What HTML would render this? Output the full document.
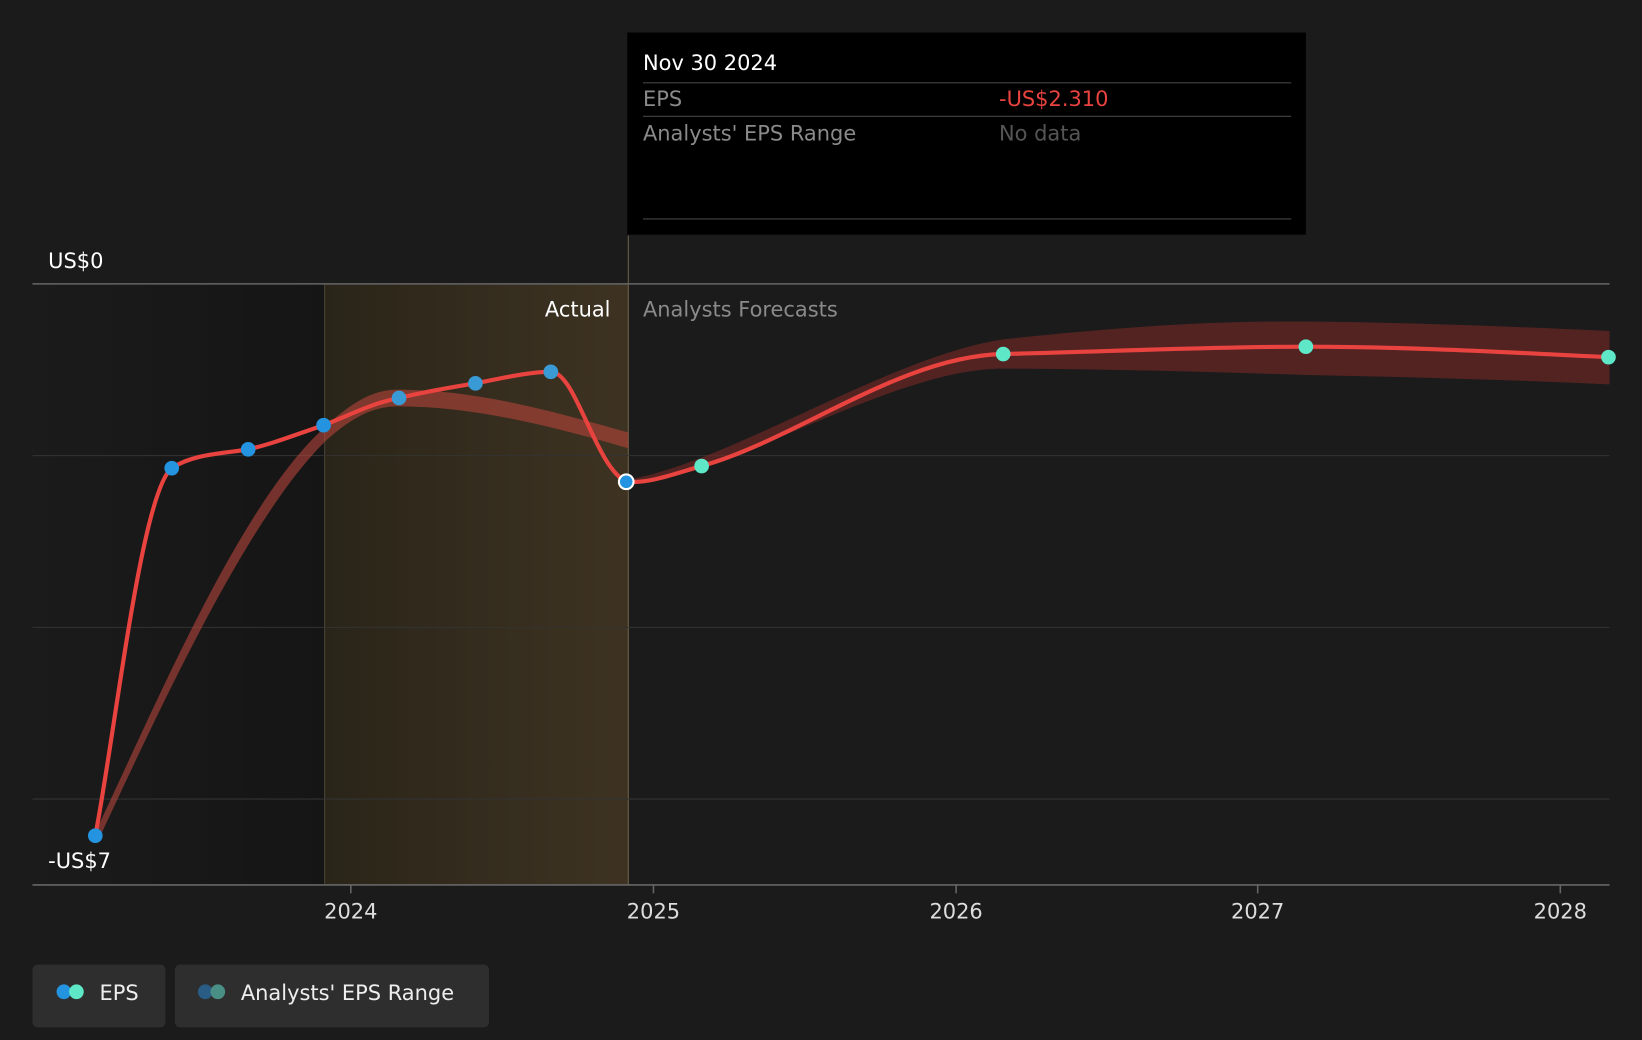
<!DOCTYPE html>
<html><head><meta charset="utf-8"><style>
html,body{margin:0;padding:0;background:#1b1b1b;}
svg{display:block;font-family:"DejaVu Sans","Liberation Sans",sans-serif;}
</style></head><body>
<svg width="1642" height="1040" viewBox="0 0 1568 993" xmlns="http://www.w3.org/2000/svg">
<defs>
<linearGradient id="act" x1="0" x2="1" y1="0" y2="0">
<stop offset="0" stop-color="#2a2519"/><stop offset="1" stop-color="#3e3322"/>
</linearGradient>
<linearGradient id="past" x1="0" x2="1" y1="0" y2="0">
<stop offset="0" stop-color="#1b1b1b"/><stop offset="1" stop-color="#151515"/>
</linearGradient>
</defs>
<rect width="1568" height="993" fill="#1b1b1b"/>
<rect x="31" y="271" width="279" height="574" fill="url(#past)"/>
<rect x="310" y="271" width="290" height="574" fill="url(#act)"/>
<line x1="310" y1="271" x2="310" y2="845" stroke="#4a4434" stroke-width="1"/>
<line x1="600" y1="225" x2="600" y2="845" stroke="#6b6248" stroke-width="1"/>
<g stroke="#333" stroke-width="1">
<line x1="31" y1="435" x2="1537" y2="435"/>
<line x1="31" y1="599" x2="1537" y2="599"/>
<line x1="31" y1="763" x2="1537" y2="763"/>
</g>
<line x1="31" y1="271" x2="1537" y2="271" stroke="#666" stroke-width="1.5"/>
<line x1="31" y1="845" x2="1537" y2="845" stroke="#666" stroke-width="1.5"/>
<g stroke="#666" stroke-width="1.5">
<line x1="335" y1="845" x2="335" y2="853"/><line x1="624" y1="845" x2="624" y2="853"/>
<line x1="913" y1="845" x2="913" y2="853"/><line x1="1201" y1="845" x2="1201" y2="853"/>
<line x1="1490" y1="845" x2="1490" y2="853"/>
</g>
<g fill="#ddd" font-size="20" text-anchor="middle">
<text x="335" y="877">2024</text><text x="624" y="877">2025</text><text x="913" y="877">2026</text><text x="1201" y="877">2027</text><text x="1490" y="877">2028</text>
</g>
<text x="46" y="256" fill="#fff" font-size="20">US$0</text>
<text x="46" y="829" fill="#fff" font-size="20">-US$7</text>
<text x="583" y="302" fill="#fff" font-size="20" text-anchor="end">Actual</text>
<text x="614" y="302" fill="#8a8a8a" font-size="20">Analysts Forecasts</text>
<!-- past range band -->
<path d="M91,795 C150,670 230,480 310,408 C340,380 360,372 380,372 C450,372 520,390 600,413 L600,428 C520,405 450,388 380,388 C360,388 340,395 312,420 C240,490 160,660 95,800 Z" fill="#b5443a" opacity="0.6"/>
<!-- forecast band -->
<path d="M600,458 C700,440 850,340 958,324 C1050,314 1150,306 1247,307 C1350,308 1450,312 1537,316 L1537,367 C1450,363 1350,360 1247,358 C1150,355 1050,352 958,352 C850,352 700,455 600,462 Z" fill="#7a2a28" opacity="0.6"/>
<!-- EPS line -->
<path d="M91,798 C110,700 135,470 164,447 C185,433 215,433 237,429 C260,424 285,414 309,406 C335,396 355,385 381,380 C410,373 430,370 454,366 C480,361 505,355 526,355 C550,355 568,445 598,460 C620,462 645,452 670,445 C760,420 860,340 958,338 C1050,336 1150,331 1247,331 C1350,331 1450,337 1536,341" fill="none" stroke="#e8433f" stroke-width="4"/>
<g fill="#2494e0">
<circle cx="91" cy="798" r="7"/><circle cx="164" cy="447" r="7"/><circle cx="237" cy="429" r="7"/><circle cx="309" cy="406" r="7"/>
<circle cx="381" cy="380" r="7" fill="#3a9ad6"/><circle cx="454" cy="366" r="7" fill="#3a9ad6"/><circle cx="526" cy="355" r="7" fill="#3a9ad6"/>
</g>
<circle cx="598" cy="460" r="7" fill="#2494e0" stroke="#fff" stroke-width="2"/>
<g fill="#5ee8c8">
<circle cx="670" cy="445" r="7"/><circle cx="958" cy="338" r="7"/><circle cx="1247" cy="331" r="7"/><circle cx="1536" cy="341" r="7"/>
</g>
<!-- tooltip -->
<rect x="599" y="31" width="648" height="193" fill="#000"/>
<text x="614" y="67" fill="#fff" font-size="20">Nov 30 2024</text>
<line x1="614" y1="79" x2="1233" y2="79" stroke="#444"/>
<text x="614" y="101" fill="#8a8a8a" font-size="20">EPS</text>
<text x="954" y="101" fill="#e8433f" font-size="20">-US$2.310</text>
<line x1="614" y1="111" x2="1233" y2="111" stroke="#444"/>
<text x="614" y="134" fill="#8a8a8a" font-size="20">Analysts' EPS Range</text>
<text x="954" y="134" fill="#555" font-size="20">No data</text>
<line x1="614" y1="209" x2="1233" y2="209" stroke="#444"/>
<!-- legend -->
<rect x="31" y="921" width="127" height="60" rx="5" fill="#2e2e2e"/>
<circle cx="61" cy="947" r="7" fill="#2494e0"/><circle cx="73" cy="947" r="7" fill="#5ee8c8"/>
<text x="95" y="955" fill="#eee" font-size="20">EPS</text>
<rect x="167" y="921" width="300" height="60" rx="5" fill="#2e2e2e"/>
<circle cx="196" cy="947" r="7" fill="#2a5d86"/><circle cx="208" cy="947" r="7" fill="#4a8f86"/>
<text x="230" y="955" fill="#eee" font-size="20">Analysts' EPS Range</text>
</svg>
</body></html>
